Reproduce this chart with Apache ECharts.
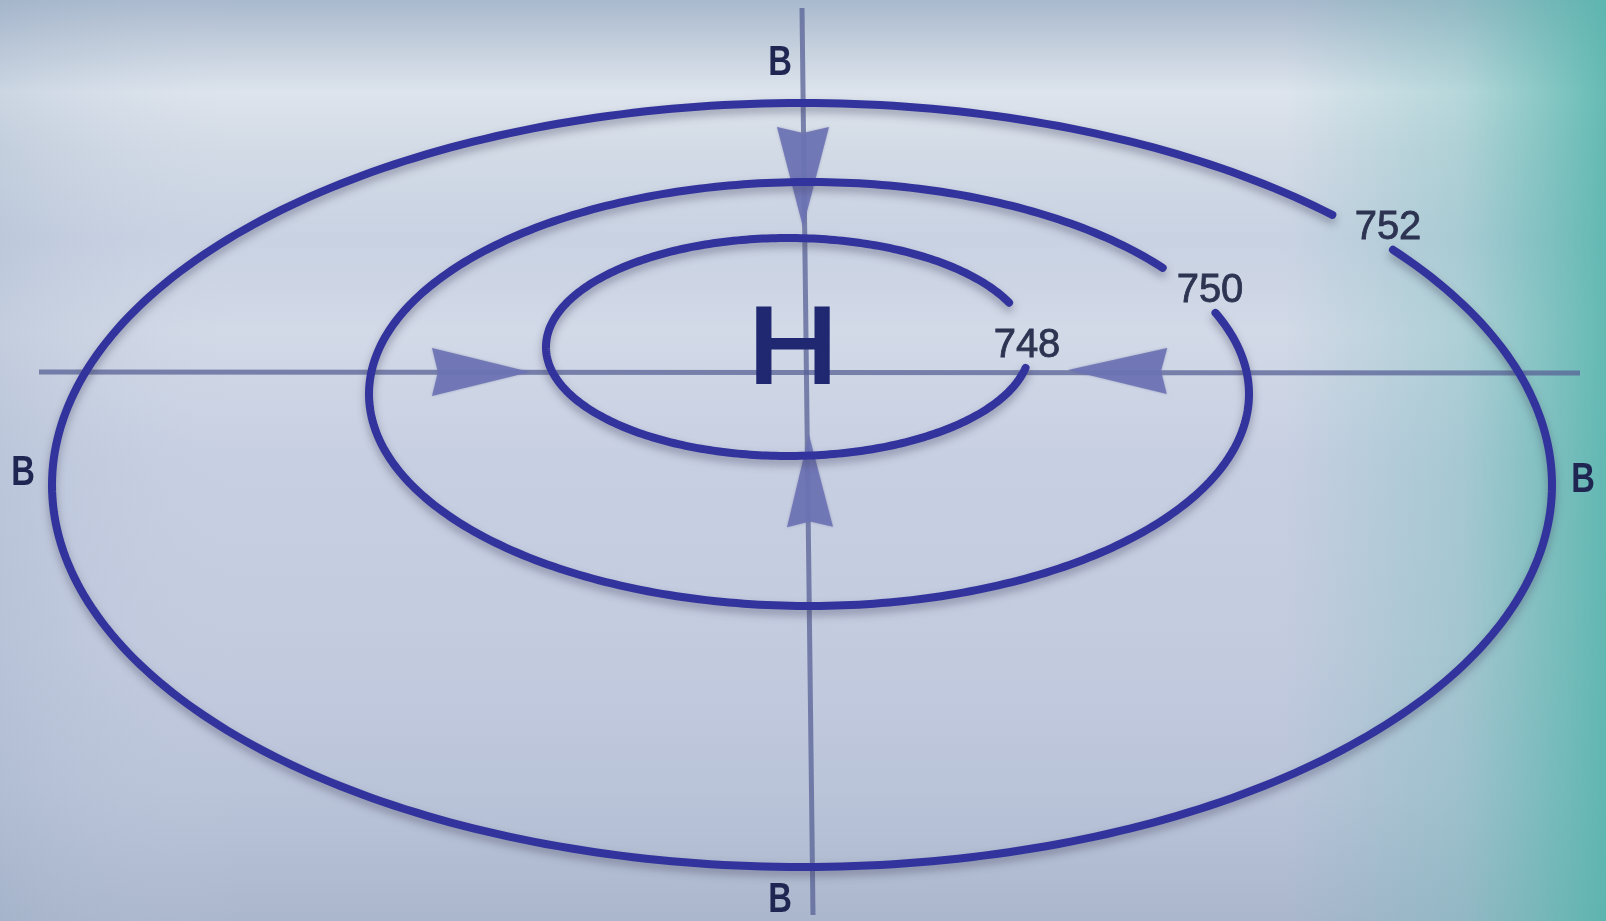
<!DOCTYPE html>
<html>
<head>
<meta charset="utf-8">
<script src="https://cdn.jsdelivr.net/npm/echarts@6/dist/echarts.min.js"></script>
<style>
html,body{margin:0;padding:0;width:1606px;height:921px;overflow:hidden;}
#chart{width:1606px;height:921px;}
</style>
</head>
<body>
<div id="chart"></div>
<script>
// ---- data (diagram units = reference pixels, y downward) ----
const isobarValues   = [748, 750, 752];
const isobarCenterX  = [788, 809, 802];
const isobarCenterY  = [347, 394, 485];
const isobarRadiusX  = [242, 440, 750];
const isobarRadiusY  = [109, 212, 382];
const isobarGapFrom  = [-11, 23, 38];   // degrees, gap where label sits
const isobarGapTo    = [24, 36.5, 45];
const isobarLabelX   = [1027, 1210, 1388];
const isobarLabelY   = [346, 291, 228];

// wind lines: [x1, y1, x2, y2]
const windLines = [[39, 372, 1580, 373], [802, 8, 813, 915]];
// arrow heads: [tipX, tipY, baseX, baseY, halfWidth]
const arrowHeads = [
  [803, 227, 803, 127, 26],
  [530, 372, 432, 372, 24],
  [1068, 370, 1167, 371, 23],
  [809, 435, 810, 527, 23]
];
// pressure letters
const letterText = ['B', 'B', 'B', 'B', 'H'];
const letterX    = [780, 23, 1583, 780, 793];
const letterY    = [63, 473, 480, 900, 352];
const letterSize = [42, 42, 42, 42, 107];

const isobarData = isobarValues.map((v, i) => [isobarCenterX[i], isobarCenterY[i], isobarRadiusX[i], isobarRadiusY[i], isobarGapFrom[i], isobarGapTo[i], v]);
const labelData = isobarValues.map((v, i) => [isobarLabelX[i], isobarLabelY[i], v]);
const letterData = letterText.map((t, i) => [letterX[i], letterY[i], letterSize[i]]);

const chart = echarts.init(document.getElementById('chart'), null, {renderer: 'canvas'});

const option = {
  animation: false,
  backgroundColor: {
    type: 'linear', x: 0, y: 0, x2: 0, y2: 1,
    colorStops: [
      {offset: 0, color: '#a9b9cd'},
      {offset: 0.05, color: '#c4cfdd'},
      {offset: 0.1, color: '#dde4ed'},
      {offset: 0.16, color: '#d3dbe6'},
      {offset: 0.26, color: '#c9d2e3'},
      {offset: 0.36, color: '#d2d9e7'},
      {offset: 0.5, color: '#c7cfe2'},
      {offset: 0.7, color: '#c3cbdf'},
      {offset: 0.86, color: '#bac4d9'},
      {offset: 1, color: '#abb7cd'}
    ]
  },
  graphic: [
    {
      type: 'rect', z: -10, silent: true,
      shape: {x: 0, y: 0, width: 1606, height: 921},
      style: {
        fill: {
          type: 'linear', x: 0, y: 0, x2: 1, y2: 0,
          colorStops: [
            {offset: 0, color: 'rgba(150,170,195,0.25)'},
            {offset: 0.15, color: 'rgba(200,210,225,0)'},
            {offset: 0.8, color: 'rgba(90,185,175,0)'},
            {offset: 0.91, color: 'rgba(90,185,175,0.3)'},
            {offset: 1, color: 'rgba(80,180,170,0.85)'}
          ]
        }
      }
    }
  ],
  grid: {left: 0, right: 0, top: 0, bottom: 0},
  xAxis: {type: 'value', min: 0, max: 1606, show: false},
  yAxis: {type: 'value', min: 0, max: 921, inverse: true, show: false},
  series: [
    {
      type: 'custom', name: 'wind', z: 1,
      data: windLines,
      renderItem: function (params, api) {
        const p1 = api.coord([api.value(0), api.value(1)]);
        const p2 = api.coord([api.value(2), api.value(3)]);
        return {
          type: 'line',
          shape: {x1: p1[0], y1: p1[1], x2: p2[0], y2: p2[1]},
          style: {stroke: 'rgba(88,98,150,0.75)', lineWidth: 5}
        };
      }
    },
    {
      type: 'custom', name: 'arrows', z: 2,
      data: arrowHeads,
      renderItem: function (params, api) {
        const tip = api.coord([api.value(0), api.value(1)]);
        const base = api.coord([api.value(2), api.value(3)]);
        const hw = api.value(4);
        const dx = tip[0] - base[0], dy = tip[1] - base[1];
        const len = Math.sqrt(dx * dx + dy * dy);
        const ux = dx / len, uy = dy / len;
        const px = -uy, py = ux;
        const notch = [base[0] + ux * len * 0.06, base[1] + uy * len * 0.06];
        return {
          type: 'polygon',
          shape: {points: [
            tip,
            [base[0] + px * hw, base[1] + py * hw],
            notch,
            [base[0] - px * hw, base[1] - py * hw]
          ]},
          style: {fill: 'rgba(108,115,180,0.92)', shadowBlur: 3, shadowColor: 'rgba(90,90,140,0.4)'}
        };
      }
    },
    {
      type: 'custom', name: 'isobars', z: 3,
      data: isobarData,
      renderItem: function (params, api) {
        const cx = api.value(0), cy = api.value(1), rx = api.value(2), ry = api.value(3);
        const g0 = api.value(4), g1 = api.value(5);
        const pts = [];
        for (let d = g1; d <= g0 + 360 + 0.001; d += 1) {
          const t = d * Math.PI / 180;
          pts.push(api.coord([cx + rx * Math.cos(t), cy - ry * Math.sin(t)]));
        }
        return {
          type: 'polyline',
          shape: {points: pts},
          style: {
            stroke: '#32339c', lineWidth: 8, fill: null, lineCap: 'round',
            shadowBlur: 8, shadowColor: 'rgba(70,70,100,0.45)', shadowOffsetY: 5
          }
        };
      }
    },
    {
      type: 'custom', name: 'isobarLabels', z: 4,
      data: labelData,
      renderItem: function (params, api) {
        const p = api.coord([api.value(0), api.value(1)]);
        return {
          type: 'text',
          x: p[0], y: p[1],
          style: {
            text: String(api.value(2)),
            fontFamily: 'Liberation Sans, Arial, sans-serif',
            fontSize: 40,
            fill: '#2d3452',
            stroke: '#2d3452', lineWidth: 0.8,
            align: 'center', verticalAlign: 'middle',
            shadowColor: 'rgba(245,248,252,0.95)', shadowBlur: 12
          }
        };
      }
    },
    {
      type: 'custom', name: 'letters', z: 5,
      data: letterData,
      renderItem: function (params, api) {
        const p = api.coord([api.value(0), api.value(1)]);
        const size = api.value(2);
        const txt = letterText[params.dataIndex];
        const big = size > 60;
        return {
          type: 'text',
          x: p[0], y: p[1],
          scaleX: big ? 1.17 : 0.78,
          style: big ? {
            text: txt,
            fontFamily: 'Liberation Sans, Arial, sans-serif',
            fontWeight: 'normal',
            fontSize: size,
            fill: '#1f2870',
            stroke: '#1f2870', lineWidth: 3,
            align: 'center', verticalAlign: 'middle'
          } : {
            text: txt,
            fontFamily: 'Liberation Sans, Arial, sans-serif',
            fontWeight: 'bold',
            fontSize: size,
            fill: '#1f2652',
            align: 'center', verticalAlign: 'middle'
          }
        };
      }
    }
  ]
};
chart.setOption(option);
</script>
</body>
</html>
